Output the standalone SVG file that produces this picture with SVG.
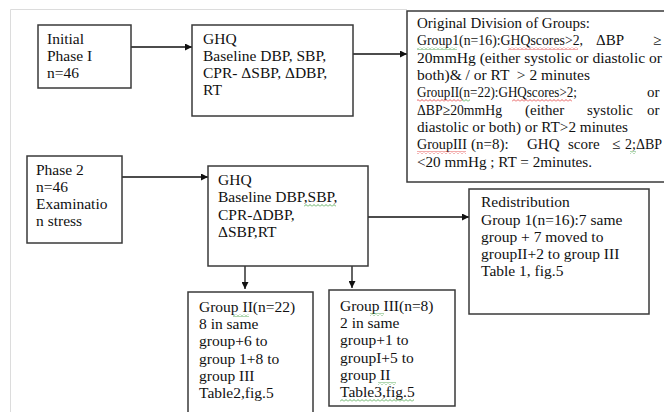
<svg xmlns="http://www.w3.org/2000/svg" width="664" height="412" viewBox="0 0 664 412">
<defs>
<style>
.box{fill:#fff;stroke:#3a3a3a;stroke-width:1.5}
.t{font-family:"Liberation Serif","Times New Roman",serif;font-size:15.5px;fill:#111}
.o{font-family:"Liberation Serif","Times New Roman",serif;font-size:15px;fill:#111}
.c{stroke:#111;stroke-width:1.3;fill:none}
.frame{stroke:#dcdcdc;stroke-width:1;fill:none}
</style>
<marker id="ah" viewBox="0 0 10 10" refX="10" refY="5" markerWidth="7" markerHeight="7" markerUnits="userSpaceOnUse" orient="auto">
<path d="M0,0 L10,5 L0,10 z" fill="#111"/>
</marker>
<pattern id="sqR" width="4" height="3" patternUnits="userSpaceOnUse"><path d="M0,2.5 L2,0.5 L4,2.5" stroke="#e03030" stroke-width="0.8" fill="none"/></pattern>
<pattern id="sqG" width="4" height="3" patternUnits="userSpaceOnUse"><path d="M0,2.5 L2,0.5 L4,2.5" stroke="#3a9a3a" stroke-width="0.8" fill="none"/></pattern>
</defs>
<rect width="664" height="412" fill="#fff"/>
<path class="frame" d="M10.5,412 L10.5,9.5 L407,9.5"/>

<g id="connectors">
<line class="c" x1="131" y1="47" x2="192" y2="47" marker-end="url(#ah)"/>
<line class="c" x1="353" y1="54" x2="407" y2="54" marker-end="url(#ah)"/>
<line class="c" x1="122" y1="177" x2="208" y2="177" marker-end="url(#ah)"/>
<line class="c" x1="368" y1="217" x2="469" y2="217" marker-end="url(#ah)"/>
<line class="c" x1="245" y1="266" x2="245" y2="289" marker-end="url(#ah)"/>
<line class="c" x1="352" y1="266" x2="352" y2="288" marker-end="url(#ah)"/>
</g>

<g id="phase1">
<rect class="box" x="38" y="25" width="93" height="63"/>
<text class="t" x="47" y="44">Initial</text>
<text class="t" x="47" y="61">Phase I</text>
<text class="t" x="47" y="78">n=46</text>
</g>

<g id="ghq1">
<rect class="box" x="192" y="25" width="161" height="91"/>
<text class="t" x="203" y="44">GHQ</text>
<text class="t" x="203" y="61">Baseline DBP, SBP,</text>
<text class="t" x="203" y="78">CPR- ΔSBP, ΔDBP,</text>
<text class="t" x="203" y="95">RT</text>
</g>

<g id="original">
<rect class="box" x="407" y="11" width="265" height="171"/>
<text class="o" x="417" y="28" textLength="173" lengthAdjust="spacingAndGlyphs">Original Division of Groups:</text>
<text class="o" x="417" y="45" textLength="166" lengthAdjust="spacingAndGlyphs">Group1(n=16):GHQscores&gt;2,</text>
<text class="o" x="596" y="45">ΔBP</text>
<text class="o" x="653" y="45">≥</text>
<text class="o" x="417" y="63" textLength="245" lengthAdjust="spacingAndGlyphs">20mmHg (either systolic or diastolic or</text>
<text class="o" x="417" y="80" xml:space="preserve" textLength="173" lengthAdjust="spacingAndGlyphs">both)&amp; / or RT  &gt; 2 minutes</text>
<text class="o" x="417" y="97" textLength="160" lengthAdjust="spacingAndGlyphs">GroupII(n=22):GHQscores&gt;2;</text>
<text class="o" x="647" y="97">or</text>
<text class="o" x="417" y="115" textLength="85" lengthAdjust="spacingAndGlyphs">ΔBP≥20mmHg</text>
<text class="o" x="525" y="115">(either</text>
<text class="o" x="587" y="115">systolic</text>
<text class="o" x="647" y="115">or</text>
<text class="o" x="417" y="132" textLength="211" lengthAdjust="spacingAndGlyphs">diastolic or both) or RT&gt;2 minutes</text>
<text class="o" x="417" y="149" textLength="50" lengthAdjust="spacingAndGlyphs">GroupIII</text>
<text class="o" x="471" y="149">(n=8):</text>
<text class="o" x="527" y="149">GHQ</text>
<text class="o" x="568" y="149">score</text>
<text class="o" x="612" y="149">≤</text>
<text class="o" x="625" y="149" textLength="37" lengthAdjust="spacingAndGlyphs">2;ΔBP</text>
<text class="o" x="417" y="167" textLength="175" lengthAdjust="spacingAndGlyphs">&lt;20 mmHg ; RT = 2minutes.</text>
<rect x="417" y="47" width="40" height="3" fill="url(#sqG)"/>
<rect x="508" y="47" width="70" height="3" fill="url(#sqR)"/>
<rect x="417" y="99" width="45" height="3" fill="url(#sqR)"/>
<rect x="462" y="99" width="8" height="3" fill="url(#sqG)"/>
<rect x="512" y="99" width="60" height="3" fill="url(#sqR)"/>
<rect x="417" y="151" width="49" height="3" fill="url(#sqR)"/>
<rect x="630" y="151" width="6" height="3" fill="url(#sqG)"/>
</g>

<g id="phase2">
<rect class="box" x="27" y="156" width="95" height="87"/>
<text class="t" x="36" y="175">Phase 2</text>
<text class="t" x="36" y="192">n=46</text>
<text class="t" x="36" y="209">Examinatio</text>
<text class="t" x="36" y="226">n stress</text>
</g>

<g id="ghq2">
<rect class="box" x="208" y="166" width="160" height="100"/>
<text class="t" x="218" y="185">GHQ</text>
<text class="t" x="218" y="202">Baseline DBP,SBP,</text>
<text class="t" x="218" y="220">CPR-ΔDBP,</text>
<text class="t" x="218" y="237">ΔSBP,RT</text>
<rect x="304" y="204" width="32" height="3" fill="url(#sqG)"/>
</g>

<g id="redistribution">
<rect class="box" x="469" y="189" width="180" height="125"/>
<text class="t" x="481" y="207">Redistribution</text>
<text class="t" x="481" y="225">Group 1(n=16):7 same</text>
<text class="t" x="481" y="242">group + 7 moved to</text>
<text class="t" x="481" y="259">groupII+2 to group III</text>
<text class="t" x="481" y="276">Table 1, fig.5</text>
</g>

<g id="group2">
<rect class="box" x="188" y="292" width="125" height="130"/>
<text class="t" x="199" y="312">Group II(n=22)</text>
<text class="t" x="199" y="329">8 in same</text>
<text class="t" x="199" y="346">group+6 to</text>
<text class="t" x="199" y="364">group 1+8 to</text>
<text class="t" x="199" y="381">group III</text>
<text class="t" x="199" y="398">Table2,fig.5</text>
<rect x="233" y="314" width="16" height="3" fill="url(#sqG)"/>
</g>

<g id="group3">
<rect class="box" x="329" y="290" width="126" height="116"/>
<text class="t" x="340" y="311">Group III(n=8)</text>
<text class="t" x="340" y="328">2 in same</text>
<text class="t" x="340" y="345">group+1 to</text>
<text class="t" x="340" y="363">groupI+5 to</text>
<text class="t" x="340" y="380">group II</text>
<text class="t" x="340" y="397">Table3,fig.5</text>
<rect x="370" y="313" width="14" height="3" fill="url(#sqG)"/>
<rect x="378" y="382" width="18" height="3" fill="url(#sqG)"/>
<rect x="340" y="399" width="74" height="3" fill="url(#sqG)"/>
</g>
</svg>
